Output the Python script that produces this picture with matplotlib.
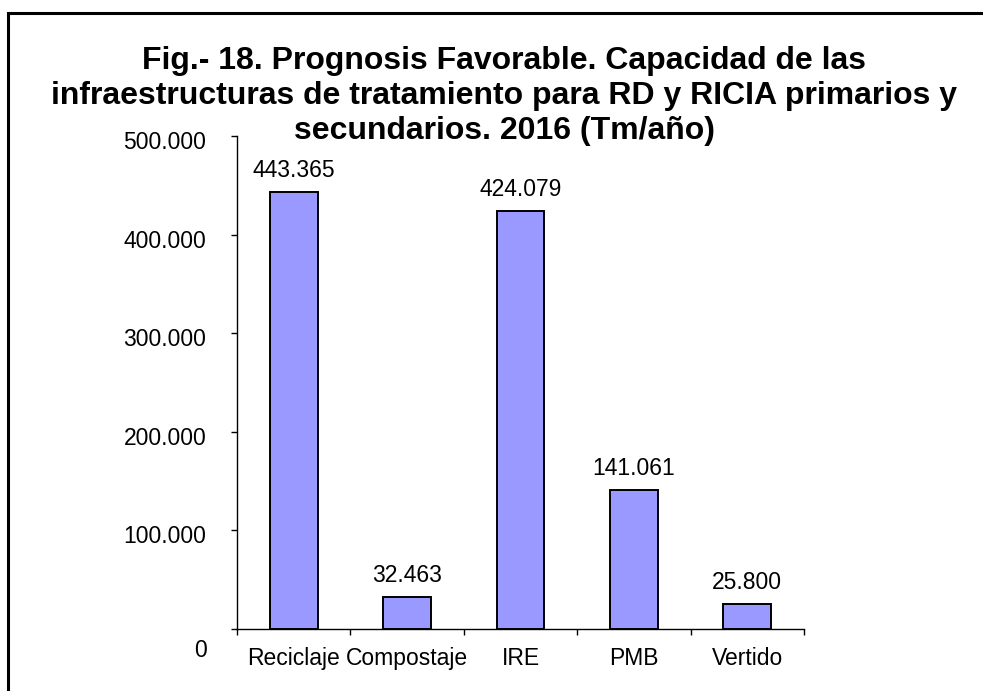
import matplotlib
matplotlib.use("Agg")
import matplotlib.pyplot as plt
import matplotlib.ticker as mt
import matplotlib.transforms as mtr
from matplotlib.patches import Rectangle

# data
categories = ["Reciclaje", "Compostaje", "IRE", "PMB", "Vertido"]
values = [443365, 32463, 424079, 141061, 25800]
title_lines = ["Fig.- 18. Prognosis Favorable. Capacidad de las",
               "infraestructuras de tratamiento para RD y RICIA primarios y",
               "secundarios. 2016 (Tm/año)"]

def miles(v, pos=None):
    # thousands with a dot, Spanish style
    return "{:,.0f}".format(v).replace(",", ".")

plt.rcParams['font.family'] = ['Liberation Sans', 'DejaVu Sans']

W, H = 983, 691
fig = plt.figure(figsize=(W / 100, H / 100), dpi=100)
fig.patch.set_facecolor("white")

# frame round the chart (right and bottom edges fall outside the picture)
fig.patches.append(Rectangle((8 / W, -0.2), 1.5, 1 - 13 / H + 0.2,
                             transform=fig.transFigure, fill=False,
                             edgecolor="black", linewidth=2.2))

# title, one text per line
for i, line in enumerate(title_lines):
    fig.text(504 / W, 1 - (69 + 35 * i) / H, line, ha="center", va="baseline",
             fontsize=23, fontweight="bold")

ax = fig.add_axes([237 / W, 1 - 629 / H, (804 - 237) / W, (629 - 136) / H])
x = list(range(len(categories)))
bars = ax.bar(x, values, width=0.42, color="#9999FF", edgecolor="black",
              linewidth=1.4, zorder=2)

ax.set_xlim(-0.5, len(categories) - 0.5)
ax.set_ylim(0, 500000)
ax.yaxis.set_major_locator(mt.MultipleLocator(100000))
ax.yaxis.set_major_formatter(mt.FuncFormatter(miles))

ax.set_xticks(x)
ax.set_xticklabels(categories)
ax.set_xticks([i - 0.5 for i in range(len(categories) + 1)], minor=True)
ax.tick_params(axis="x", which="major", length=0, pad=13, labelsize=16.5)
ax.tick_params(axis="x", which="minor", length=4, direction="out", width=1)
ax.tick_params(axis="y", length=4, direction="out", width=1, pad=18, labelsize=16.5)

for s in ["top", "right"]:
    ax.spines[s].set_visible(False)
for s in ["left", "bottom"]:
    ax.spines[s].set_linewidth(1)

# y labels sit a little below their ticks, the "0" well below the axis
fig.canvas.draw()
for lab in ax.get_yticklabels():
    dy = -19 if lab.get_text() == "0" else -4
    lab.set_transform(lab.get_transform() +
                      mtr.ScaledTranslation(0, dy / 100, fig.dpi_scale_trans))

for b, v in zip(bars, values):
    ax.annotate(miles(v), (b.get_x() + b.get_width() / 2, v),
                xytext=(0, 7), textcoords="offset points",
                ha="center", va="bottom", fontsize=16.5)

fig.savefig("out.png", dpi=100)
